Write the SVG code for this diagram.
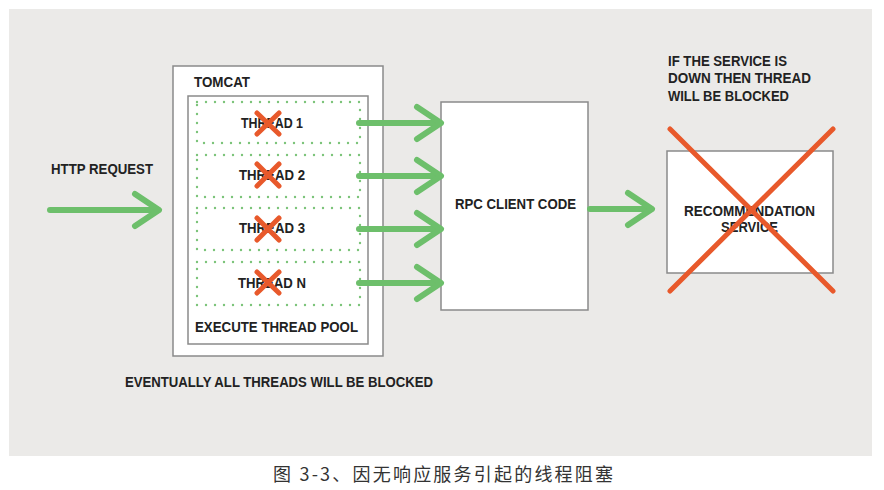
<svg xmlns="http://www.w3.org/2000/svg" width="884" height="490" viewBox="0 0 884 490">
<style>
.t{font-family:"Liberation Sans",Arial,sans-serif;font-weight:bold;font-size:14.5px;fill:#222}
.box{fill:#fff;stroke:#8a8a8a;stroke-width:1.5}
.dot{fill:none;stroke:#7cc47a;stroke-width:2.4;stroke-linecap:round;stroke-dasharray:0 9}
.g{fill:none;stroke:#6dbf6b;stroke-width:6;stroke-linecap:round;stroke-linejoin:round}
.x{fill:none;stroke:#e8592b;stroke-width:5;stroke-linecap:round}
.cap{font-family:"Noto Sans CJK SC","Noto Sans",sans-serif;font-size:18px;fill:#333}
</style>
<defs>
<path id="chev" d="M-24,-16 L0,0 L-24,16"/>
</defs>
<rect x="0" y="0" width="884" height="490" fill="#fff"/>
<rect x="9" y="9" width="863" height="447" fill="#ebeae8"/>

<g id="tomcat">
<rect class="box" x="173" y="66" width="210" height="290"/>
<text class="t" x="194" y="87" textLength="56" lengthAdjust="spacingAndGlyphs">TOMCAT</text>
</g>
<g id="pool">
<rect class="box" x="188" y="96" width="180" height="248"/>
<text class="t" x="195" y="332" textLength="163" lengthAdjust="spacingAndGlyphs">EXECUTE THREAD POOL</text>
</g>
<g id="thread1">
<rect class="dot" x="197" y="102" width="163" height="41"/>
<text class="t" x="241" y="128" textLength="62" lengthAdjust="spacingAndGlyphs">THREAD 1</text>
<path class="x" d="M257,113 L279,134 M279,113 L257,134"/>
</g>
<g id="thread2">
<rect class="dot" x="197" y="155" width="163" height="42"/>
<text class="t" x="239" y="180" textLength="66" lengthAdjust="spacingAndGlyphs">THREAD 2</text>
<path class="x" d="M257,164 L279,186 M279,164 L257,186"/>
</g>
<g id="thread3">
<rect class="dot" x="197" y="208" width="163" height="42"/>
<text class="t" x="239" y="233" textLength="66" lengthAdjust="spacingAndGlyphs">THREAD 3</text>
<path class="x" d="M257,218 L279,240 M279,218 L257,240"/>
</g>
<g id="threadN">
<rect class="dot" x="197" y="262" width="163" height="43"/>
<text class="t" x="238" y="288" textLength="68" lengthAdjust="spacingAndGlyphs">THREAD N</text>
<path class="x" d="M257,272 L279,293 M279,272 L257,293"/>
</g>

<g id="rpc">
<rect class="box" x="441" y="102" width="147" height="208"/>
<text class="t" x="455" y="209" textLength="121" lengthAdjust="spacingAndGlyphs">RPC CLIENT CODE</text>
</g>

<g id="recommendation">
<rect class="box" x="667" y="151" width="166" height="122"/>
<text class="t" x="684" y="216" textLength="131" lengthAdjust="spacingAndGlyphs">RECOMMENDATION</text>
<text class="t" x="721" y="232" textLength="57" lengthAdjust="spacingAndGlyphs">SERVICE</text>
<path class="x" d="M670,129 L833,291 M833,129 L670,291"/>
</g>

<g id="labels">
<text class="t" x="51" y="174" textLength="102" lengthAdjust="spacingAndGlyphs">HTTP REQUEST</text>
<text class="t" x="668" y="66" textLength="119" lengthAdjust="spacingAndGlyphs">IF THE SERVICE IS</text>
<text class="t" x="668" y="83" textLength="143" lengthAdjust="spacingAndGlyphs">DOWN THEN THREAD</text>
<text class="t" x="668" y="101" textLength="121" lengthAdjust="spacingAndGlyphs">WILL BE BLOCKED</text>
<text class="t" x="125" y="387" textLength="308" lengthAdjust="spacingAndGlyphs">EVENTUALLY ALL THREADS WILL BE BLOCKED</text>
</g>

<g id="connectors">
<path class="g" d="M50,210 L158,210"/><use href="#chev" class="g" transform="translate(159,210)"/>
<path class="g" d="M359,123 L440,123"/><use href="#chev" class="g" transform="translate(441,123)"/>
<path class="g" d="M359,176 L440,176"/><use href="#chev" class="g" transform="translate(441,176)"/>
<path class="g" d="M359,229 L440,229"/><use href="#chev" class="g" transform="translate(441,229)"/>
<path class="g" d="M359,283 L440,283"/><use href="#chev" class="g" transform="translate(441,283)"/>
<path class="g" d="M590,209 L651,209"/><use href="#chev" class="g" transform="translate(652,209)"/>
</g>

<text class="cap" x="273" y="481" textLength="340" lengthAdjust="spacing">图 3-3、因无响应服务引起的线程阻塞</text>
</svg>
